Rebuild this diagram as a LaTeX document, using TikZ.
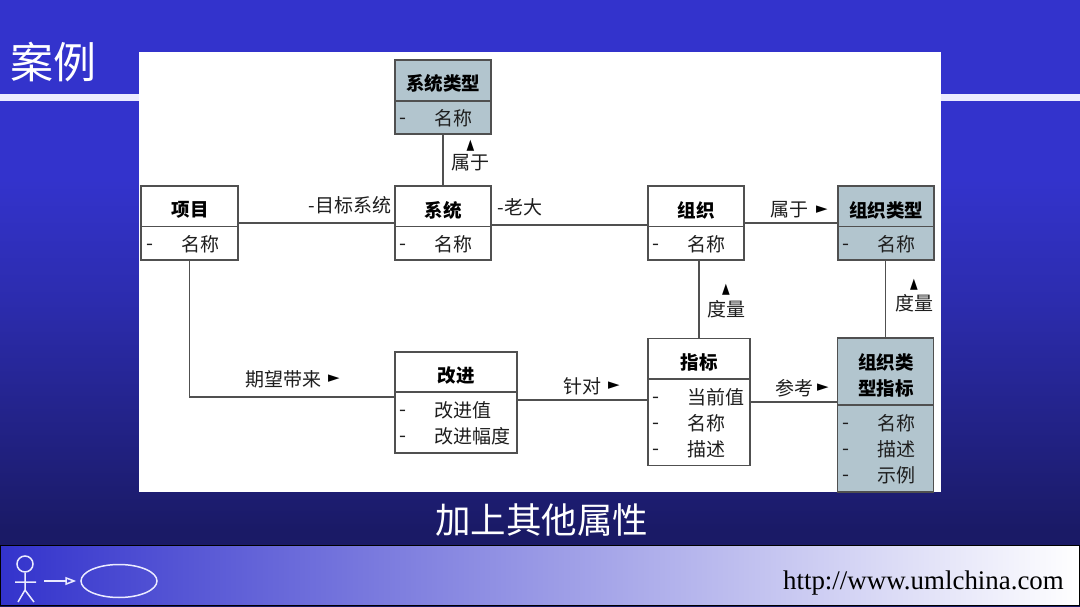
\documentclass[tikz,border=0pt]{standalone}
\usepackage{fontspec}
\setmainfont{Noto Sans CJK SC}
\newfontfamily\symfont{DejaVu Sans}
\newfontfamily\urlfont{Liberation Serif}
\usetikzlibrary{arrows.meta,shapes.geometric}
\definecolor{bluetop}{HTML}{3333CC}
\definecolor{bluemid}{HTML}{2C2CAE}
\definecolor{bluedark}{HTML}{1A1A66}
\definecolor{boxgray}{HTML}{B2C5CE}
\definecolor{linegray}{HTML}{505050}
\definecolor{inkdark}{HTML}{1E1E1E}
\definecolor{footmid}{HTML}{BEBEE4}
\tikzset{
 x=1pt,y=-1pt,
 umlbox/.style={draw=linegray,line width=1.2pt,fill=white,inner sep=0pt,outer sep=0pt},
 graybox/.style={umlbox,fill=boxgray},
 conn/.style={draw=linegray,line width=1.2pt},
 divider/.style={draw=linegray,line width=1.2pt},
 titletext/.style={font=\fontsize{18.5}{22}\selectfont\bfseries,text=black,inner sep=0pt,align=center},
 attr/.style={font=\fontsize{19}{22}\selectfont,text=inkdark,inner sep=0pt,anchor=west},
 dashmark/.style={font=\fontsize{20}{22}\selectfont,text=inkdark,inner sep=0pt,yshift=-3pt},
 lbl/.style={font=\fontsize{19}{22}\selectfont,text=inkdark,inner sep=0pt},
 tri/.style={font=\symfont\fontsize{15}{17}\selectfont,text=black,inner sep=0pt},
 triup/.style={font=\symfont\fontsize{10}{12}\selectfont,text=black,inner sep=0pt,yscale=1.45,transform shape},
 iconline/.style={draw=white!92!blue,line width=1.5pt},
}
\begin{document}
\begin{tikzpicture}
\useasboundingbox (0,0) rectangle (1080,607);
% background
\fill[bluetop] (0,0) rectangle (1080,180);
\fill[top color=bluetop,bottom color=bluemid] (0,180) rectangle (1080,300);
\fill[top color=bluemid,bottom color=bluedark] (0,300) rectangle (1080,530);
\fill[bluedark] (0,530) rectangle (1080,607);
% title band
\fill[white!92!blue] (0,94) rectangle (1080,101.5);
\fill[white] (139,52) rectangle (941,492);
\node[font=\fontsize{43}{46}\selectfont,text=white,inner sep=0pt] (title) at (53.5,62) {案例};
\node[font=\fontsize{35.5}{40}\selectfont,text=white,inner sep=0pt] (caption) at (541.5,520) {加上其他属性};
% footer
\path[left color=bluetop,middle color=footmid,right color=white,draw=black,line width=1pt] (0.5,545.5) rectangle (1079.5,605.5);
\node[font=\urlfont\fontsize{26.9}{30}\selectfont,text=black,inner sep=0pt,anchor=east] (url) at (1064,583) {http://www.umlchina.com};
% actor icon
\node[draw=white!92!blue,line width=1.5pt,circle,minimum size=16pt,inner sep=0pt] (head) at (25,564) {};
\coordinate (hip) at (25,590);
\coordinate (armL) at (15,582);
\coordinate (armR) at (36,582);
\coordinate (legL) at (18,602);
\coordinate (legR) at (34,602);
\draw[iconline] (head.south) -- (hip) (armL) -- (armR) (legL) -- (hip) -- (legR);
\node[draw=white!92!blue,line width=1.5pt,ellipse,minimum width=76pt,minimum height=33pt,inner sep=0pt] (usecase) at (119,581) {};
\coordinate (arrowstart) at (44,581);
\draw[iconline,shorten >=4pt,-{Triangle[open,length=11pt,width=8pt]}] (arrowstart) -- (usecase.west);
% boxes
\node[graybox,minimum width=96pt,minimum height=74pt] (xtlx) at (443,97) {};
\node[umlbox,minimum width=97pt,minimum height=74pt] (xm) at (189.5,223) {};
\node[umlbox,minimum width=96pt,minimum height=74pt] (xt) at (443,223) {};
\node[umlbox,minimum width=96pt,minimum height=74pt] (zz) at (696,223) {};
\node[graybox,minimum width=96pt,minimum height=74pt] (zzlx) at (886,223) {};
\node[umlbox,minimum width=122pt,minimum height=101pt] (gj) at (456,402.5) {};
\node[umlbox,minimum width=102pt,minimum height=127pt] (zb) at (699,402) {};
\node[graybox,minimum width=96pt,minimum height=154pt] (lxzb) at (885.5,415) {};
% dividers
\draw[divider] (xtlx.west |- 0,101) -- (xtlx.east |- 0,101);
\draw[divider] (xm.west |- 0,226.5) -- (xm.east |- 0,226.5);
\draw[divider] (xt.west |- 0,226.5) -- (xt.east |- 0,226.5);
\draw[divider] (zz.west |- 0,226.5) -- (zz.east |- 0,226.5);
\draw[divider] (zzlx.west |- 0,226.5) -- (zzlx.east |- 0,226.5);
\draw[divider] (gj.west |- 0,392) -- (gj.east |- 0,392);
\draw[divider] (zb.west |- 0,379) -- (zb.east |- 0,379);
\draw[divider] (lxzb.west |- 0,405) -- (lxzb.east |- 0,405);
% connectors
\draw[conn] (xt.north) -- (xtlx.south);
\draw[conn] (xm.east) -- (xt.west);
\draw[conn] ([yshift=-2pt]xt.east) -- ([yshift=-2pt]zz.west);
\draw[conn] (zz.east) -- (zzlx.west);
\draw[conn] (xm.south) |- ([yshift=5.5pt]gj.west);
\draw[conn] ([yshift=2.5pt]gj.east) -- ([yshift=2.5pt]gj.east -| zb.west);
\draw[conn] (zb.east) -- (zb.east -| lxzb.west);
\draw[conn] (zb.north) -- (zb.north |- zz.south);
\draw[conn] (lxzb.north) -- (lxzb.north |- zzlx.south);
% box texts
\node[titletext] (t1) at (443,83) {系统类型};
\node[dashmark] (d1) at (403,118) {-};
\node[attr] (a1) at (434,118) {名称};
\node[titletext] (t2) at (190,210) {项目};
\node[dashmark] (d2) at (150,244) {-};
\node[attr] (a2) at (181,244) {名称};
\node[titletext] (t3) at (443,210) {系统};
\node[dashmark] (d3) at (403,244) {-};
\node[attr] (a3) at (434,244) {名称};
\node[titletext] (t4) at (696,210) {组织};
\node[dashmark] (d4) at (656,244) {-};
\node[attr] (a4) at (687,244) {名称};
\node[titletext] (t5) at (886,210) {组织类型};
\node[dashmark] (d5) at (846,244) {-};
\node[attr] (a5) at (877,244) {名称};
\node[titletext] (t6) at (456,376) {改进};
\node[dashmark] (d6) at (403,410) {-};
\node[attr] (a6) at (434,410) {改进值};
\node[dashmark] (d7) at (403,436) {-};
\node[attr] (a7) at (434,436) {改进幅度};
\node[titletext] (t7) at (699,362) {指标};
\node[dashmark] (d8) at (656,397) {-};
\node[attr] (a8) at (687,397) {当前值};
\node[dashmark] (d9) at (656,423) {-};
\node[attr] (a9) at (687,423) {名称};
\node[dashmark] (d10) at (656,449) {-};
\node[attr] (a10) at (687,449) {描述};
\node[titletext] (t8) at (886,375) {组织类\\[4pt]型指标};
\node[dashmark] (d11) at (846,423) {-};
\node[attr] (a11) at (877,423) {名称};
\node[dashmark] (d12) at (846,449) {-};
\node[attr] (a12) at (877,449) {描述};
\node[dashmark] (d13) at (846,475) {-};
\node[attr] (a13) at (877,475) {示例};
% connector labels
\node[lbl] (l1) at (470.5,163) {属于};
\node[triup] (u1) at (470.5,145.5) {▲};
\node[lbl] (l2) at (350,205) {-目标系统};
\node[lbl] (l3) at (520,207) {-老大};
\node[lbl] (l4) at (789,210) {属于};
\node[tri] (r1) at (822,210) {►};
\node[lbl] (l5) at (726,309) {度量};
\node[triup] (u2) at (726,290) {▲};
\node[lbl] (l6) at (914,303) {度量};
\node[triup] (u3) at (914,285) {▲};
\node[lbl] (l7) at (283.5,379) {期望带来};
\node[tri] (r2) at (334,379) {►};
\node[lbl] (l8) at (582,386) {针对};
\node[tri] (r3) at (614,386) {►};
\node[lbl] (l9) at (794,388) {参考};
\node[tri] (r4) at (823,388) {►};
\end{tikzpicture}
\end{document}
